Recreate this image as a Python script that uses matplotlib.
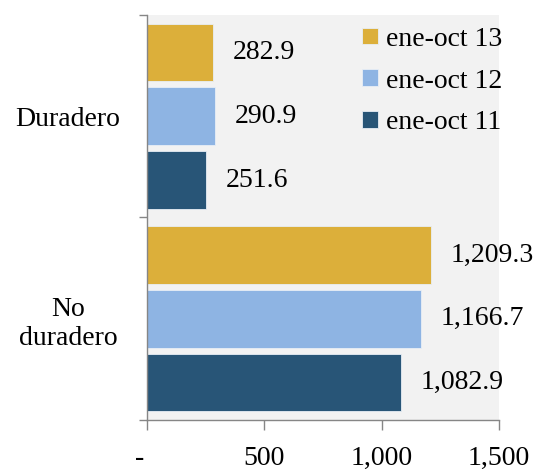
import numpy as np
import matplotlib
matplotlib.use("Agg")
import matplotlib.pyplot as plt
from matplotlib.ticker import FixedLocator

categories = ["No\nduradero", "Duradero"]
series_names = ["ene-oct 13", "ene-oct 12", "ene-oct 11"]
series_colors = ["#DCAF3A", "#8EB4E3", "#285577"]
values_13 = [1209.3, 282.9]
values_12 = [1166.7, 290.9]
values_11 = [1082.9, 251.6]
xticks = [0, 500, 1000, 1500]
# trailing spaces nudge the zero dash a bit left, like the original
xtick_labels = ["-  ", "500", "1,000", "1,500"]

plt.rcParams["font.family"] = ["Liberation Serif", "DejaVu Serif"]
plt.rcParams["font.size"] = 20

fig = plt.figure(figsize=(5.33, 4.73), dpi=100)
ax = fig.add_axes([0.2758, 0.1121, 0.6604, 0.8562])
ax.set_facecolor("#F2F2F2")

y = np.arange(len(categories))
offsets = [0.315, 0.0, -0.315]
all_values = [values_13, values_12, values_11]
for name, color, vals, off in zip(series_names, series_colors, all_values, offsets):
    bars = ax.barh(y + off, vals, height=0.285, color=color, label=name,
                   edgecolor="#E8EEF5", linewidth=0.6)
    for b, v in zip(bars, vals):
        ax.annotate(f"{v:,.1f}", (b.get_width(), b.get_y() + b.get_height() / 2),
                    xytext=(14, 0), textcoords="offset points",
                    ha="left", va="center", fontsize=20)

ax.set_xlim(0, 1500)
ax.set_ylim(-0.5, 1.5)
ax.set_xticks(xticks)
ax.set_xticklabels(xtick_labels)

ax.set_yticks(y)
ax.set_yticklabels(categories, ha="center", multialignment="center",
                   linespacing=1.25)
ax.yaxis.set_minor_locator(FixedLocator([-0.5, 0.5, 1.5]))
ax.tick_params(axis="y", which="major", length=0, pad=57)
ax.tick_params(axis="y", which="minor", length=6, color="#868686", width=1)
ax.tick_params(axis="x", length=7, color="#868686", width=1, pad=12)

for s in ["top", "right"]:
    ax.spines[s].set_visible(False)
for s in ["left", "bottom"]:
    ax.spines[s].set_color("#868686")
    ax.spines[s].set_linewidth(1)

ax.legend(loc="upper left", bbox_to_anchor=(0.572, 1.005), frameon=False,
          handlelength=0.55, handleheight=0.55, handletextpad=0.3,
          labelspacing=0.6, borderpad=0.0, fontsize=20)

fig.savefig("out.png", dpi=100)
